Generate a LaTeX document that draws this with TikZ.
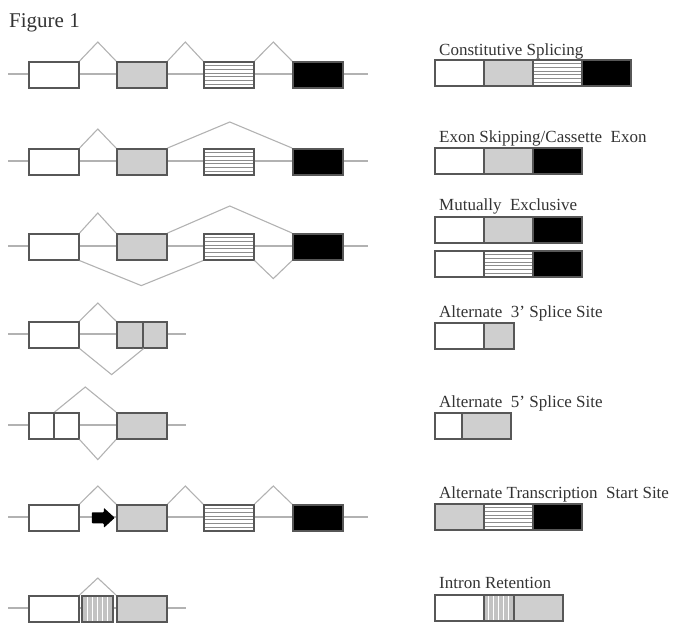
\documentclass[tikz,border=0pt]{standalone}
\usepackage{fontspec}
\setmainfont{Liberation Serif}
\usetikzlibrary{calc}
\newcommand\splarc[3]{\draw[intron] (#1) -- ($(#1)!.5!(#2)+(0,#3)$) -- (#2);}
\begin{document}
\begin{tikzpicture}[x=1pt,y=-1pt,
  intron/.style={draw=black!30, line width=1.1pt},
  exon/.style={draw=black!66, line width=1.6pt, rectangle, inner sep=0pt,
    minimum height=26pt, minimum width=50pt, anchor=north west},
  wfill/.style={fill=white},
  gfill/.style={fill=black!19},
  kfill/.style={fill=black},
  hstripe/.style={fill=white, path picture={
    \foreach \k in {1,...,6}{
      \draw[black!45, line width=0.6pt]
        ($(path picture bounding box.north west)!{\k/7}!(path picture bounding box.south west)$) --
        ($(path picture bounding box.north east)!{\k/7}!(path picture bounding box.south east)$);}}},
  vstripe/.style={fill=black!24, path picture={
    \foreach \k in {1,...,5}{
      \draw[white, line width=0.9pt]
        ($(path picture bounding box.north west)!{\k/6}!(path picture bounding box.north east)$) --
        ($(path picture bounding box.south west)!{\k/6}!(path picture bounding box.south east)$);}}},
  lbl/.style={anchor=base west, inner sep=0pt, text=black!80, font=\fontsize{17}{19}\selectfont}
]
\useasboundingbox (0,0) rectangle (675,622);

\node[anchor=base west, inner sep=0pt, text=black!80, font=\fontsize{21}{24}\selectfont] (fig) at (9,27) {Figure 1};

% ---------- Row 1: constitutive
\coordinate (a1) at (8,74); \coordinate (b1) at (368,74);
\draw[intron] (a1) -- (b1);
\node[exon, wfill] (r1e1) at (28,61) {};
\node[exon, gfill] (r1e2) at (116,61) {};
\node[exon, hstripe] (r1e3) at (203,61) {};
\node[exon, kfill] (r1e4) at (292,61) {};
\splarc{r1e1.north east}{r1e2.north west}{-19}
\splarc{r1e2.north east}{r1e3.north west}{-19}
\splarc{r1e3.north east}{r1e4.north west}{-19}

% ---------- Row 2: exon skipping
\coordinate (a2) at (8,161); \coordinate (b2) at (368,161);
\draw[intron] (a2) -- (b2);
\node[exon, wfill] (r2e1) at (28,148) {};
\node[exon, gfill] (r2e2) at (116,148) {};
\node[exon, hstripe] (r2e3) at (203,148) {};
\node[exon, kfill] (r2e4) at (292,148) {};
\splarc{r2e1.north east}{r2e2.north west}{-19}
\splarc{r2e2.north east}{r2e4.north west}{-26}

% ---------- Row 3: mutually exclusive
\coordinate (a3) at (8,246); \coordinate (b3) at (368,246);
\draw[intron] (a3) -- (b3);
\node[exon, wfill] (r3e1) at (28,233) {};
\node[exon, gfill] (r3e2) at (116,233) {};
\node[exon, hstripe] (r3e3) at (203,233) {};
\node[exon, kfill] (r3e4) at (292,233) {};
\splarc{r3e1.north east}{r3e2.north west}{-20}
\splarc{r3e2.north east}{r3e4.north west}{-27}
\splarc{r3e1.south east}{r3e3.south west}{25}
\splarc{r3e3.south east}{r3e4.south west}{18}

% ---------- Row 4: alternate 3' splice site
\coordinate (a4) at (8,334); \coordinate (b4) at (186,334);
\draw[intron] (a4) -- (b4);
\node[exon, wfill] (r4e1) at (28,321) {};
\node[exon, gfill, minimum width=26pt] (r4e2a) at (116,321) {};
\node[exon, gfill, minimum width=24pt] (r4e2b) at (142,321) {};
\splarc{r4e1.north east}{r4e2a.north west}{-18}
\splarc{r4e1.south east}{r4e2a.south east}{26}

% ---------- Row 5: alternate 5' splice site
\coordinate (a5) at (8,425); \coordinate (b5) at (186,425);
\draw[intron] (a5) -- (b5);
\node[exon, wfill, minimum width=25pt] (r5e1a) at (28,412) {};
\node[exon, wfill, minimum width=25pt] (r5e1b) at (53,412) {};
\node[exon, gfill] (r5e2) at (116,412) {};
\splarc{r5e1a.north east}{r5e2.north west}{-25}
\splarc{r5e1b.south east}{r5e2.south west}{20}

% ---------- Row 6: alternate transcription start site
\coordinate (a6) at (8,517); \coordinate (b6) at (368,517);
\draw[intron] (a6) -- (b6);
\node[exon, wfill] (r6e1) at (28,504) {};
\node[exon, gfill] (r6e2) at (116,504) {};
\node[exon, hstripe] (r6e3) at (203,504) {};
\node[exon, kfill] (r6e4) at (292,504) {};
\splarc{r6e1.north east}{r6e2.north west}{-18}
\splarc{r6e2.north east}{r6e3.north west}{-18}
\splarc{r6e3.north east}{r6e4.north west}{-18}
\coordinate (tss) at ([xshift=-1.2pt]r6e2.west);
\fill[black, rounded corners=0.8pt] (tss) -- ++(-11,-10) -- ++(0,4.5) -- ++(-12,0) -- ++(0,11) -- ++(12,0) -- ++(0,4.5) -- cycle;

% ---------- Row 7: intron retention
\coordinate (a7) at (8,608); \coordinate (b7) at (186,608);
\draw[intron] (a7) -- (b7);
\node[exon, wfill] (r7e1) at (28,595) {};
\node[exon, vstripe, minimum width=31pt] (r7ri) at (81,595) {};
\node[exon, gfill] (r7e2) at (116,595) {};
\splarc{r7e1.north east}{r7e2.north west}{-17}

% ---------- Right side: products
\node[lbl] (t1) at (439,55) {Constitutive Splicing};
\node[exon, wfill, minimum width=49pt] (p1a) at (434,59) {};
\node[exon, gfill, minimum width=49pt] (p1b) at (483,59) {};
\node[exon, hstripe, minimum width=49pt] (p1c) at (532,59) {};
\node[exon, kfill, minimum width=49pt] (p1d) at (581,59) {};

\node[lbl] (t2) at (439,142) {Exon Skipping/Cassette\ \ Exon};
\node[exon, wfill, minimum width=49pt] (p2a) at (434,147) {};
\node[exon, gfill, minimum width=49pt] (p2b) at (483,147) {};
\node[exon, kfill, minimum width=49pt] (p2c) at (532,147) {};

\node[lbl] (t3) at (439,210) {Mutually\ \ Exclusive};
\node[exon, wfill, minimum width=49pt] (p3a) at (434,216) {};
\node[exon, gfill, minimum width=49pt] (p3b) at (483,216) {};
\node[exon, kfill, minimum width=49pt] (p3c) at (532,216) {};
\node[exon, wfill, minimum width=49pt] (p3d) at (434,250) {};
\node[exon, hstripe, minimum width=49pt] (p3e) at (483,250) {};
\node[exon, kfill, minimum width=49pt] (p3f) at (532,250) {};

\node[lbl] (t4) at (439,317) {Alternate\ \ 3’ Splice Site};
\node[exon, wfill, minimum width=49pt] (p4a) at (434,322) {};
\node[exon, gfill, minimum width=30pt] (p4b) at (483,322) {};

\node[lbl] (t5) at (439,407) {Alternate\ \ 5’ Splice Site};
\node[exon, wfill, minimum width=27pt] (p5a) at (434,412) {};
\node[exon, gfill, minimum width=49pt] (p5b) at (461,412) {};

\node[lbl] (t6) at (439,498) {Alternate Transcription\ \ Start Site};
\node[exon, gfill, minimum width=49pt] (p6a) at (434,503) {};
\node[exon, hstripe, minimum width=49pt] (p6b) at (483,503) {};
\node[exon, kfill, minimum width=49pt] (p6c) at (532,503) {};

\node[lbl] (t7) at (439,588) {Intron Retention};
\node[exon, wfill, minimum width=49pt] (p7a) at (434,594) {};
\node[exon, vstripe, minimum width=30pt] (p7b) at (483,594) {};
\node[exon, gfill, minimum width=49pt] (p7c) at (513,594) {};
\end{tikzpicture}
\end{document}
